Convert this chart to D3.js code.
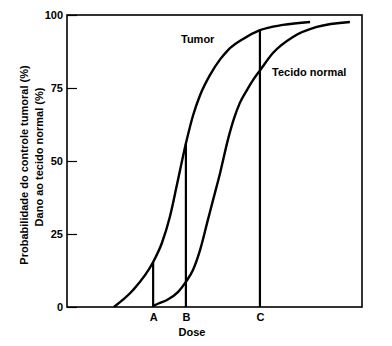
<!DOCTYPE html>
<html><head><meta charset="utf-8">
<script src="https://cdn.jsdelivr.net/npm/d3@7"></script>
<style>
body{margin:0;background:#fff;}
text{font-family:"Liberation Sans",Arial,sans-serif;font-weight:bold;}
</style></head>
<body><svg id="c" width="392" height="346"></svg>
<script>
const tumorDose = [15.9,22.4,29.2,32.2,34.9,37.3,40.3,42.7,45.1,48.5,51.9,54.6,59.7,65.4,73.2,82.4];
const tumorProb = [0,5.8,15.4,22,31,42,56,65.5,72.5,79.5,84.8,88,91.8,94.8,96.6,97.6];
const normalDose = [29.2,31.0,33.9,37.6,40.3,42.7,45.1,47.5,49.5,51.9,54.6,56.6,58.6,61.0,63.1,65.4,69.8,76.6,84.7,95.9];
const normalProb = [0.3,1.2,2.4,5.1,8.6,12.7,19.5,28.8,36.6,45.9,57.5,64.5,69.9,74.3,77.8,81.0,87.0,92.5,95.9,97.6];
const markerNames = ["A","B","C"];
const markerDose = [29.2,40.3,65.4];
const markerTop = [15.4,56,94.8];
const yTicks = [0,25,50,75,100];
const yLabel1 = "Probabilidade do controle tumoral (%)";
const yLabel2 = "Dano ao tecido normal (%)";
const xLabel = "Dose";

const svg = d3.select("#c");
const L=67, R=362, T=15, B=307;
const x = d3.scaleLinear().domain([0,100]).range([L,R]);
const y = d3.scaleLinear().domain([0,100]).range([B,T]);

svg.append("rect").attr("x",L).attr("y",T).attr("width",R-L).attr("height",B-T)
  .attr("fill","none").attr("stroke","#000").attr("stroke-width",1.6);

const ya = svg.append("g").attr("transform",`translate(${L},0)`)
  .call(d3.axisLeft(y).tickValues(yTicks).tickSize(-10).tickPadding(4));
ya.select(".domain").remove();
ya.selectAll("line").attr("stroke","#000").attr("stroke-width",1.2);
ya.selectAll("text").attr("font-size",11).attr("fill","#000");

const xa = svg.append("g").attr("transform",`translate(0,${B})`)
  .call(d3.axisBottom(x).tickValues(markerDose).tickSize(0).tickPadding(6)
    .tickFormat((d,i)=>markerNames[i]));
xa.select(".domain").remove();
xa.selectAll("text").attr("font-size",11).attr("fill","#000");

const line = d3.line().x(d=>x(d[0])).y(d=>y(d[1])).curve(d3.curveMonotoneX);
svg.append("path").datum(d3.zip(tumorDose,tumorProb)).attr("d",line)
  .attr("fill","none").attr("stroke","#000").attr("stroke-width",2.4);
svg.append("path").datum(d3.zip(normalDose,normalProb)).attr("d",line)
  .attr("fill","none").attr("stroke","#000").attr("stroke-width",2.4);

svg.selectAll(".mk").data(markerDose).enter().append("line")
  .attr("x1",d=>x(d)).attr("x2",d=>x(d))
  .attr("y1",y(0)).attr("y2",(d,i)=>y(markerTop[i]))
  .attr("stroke","#000").attr("stroke-width",2.2);

svg.append("text").attr("x",181).attr("y",43).attr("font-size",11).text("Tumor");
svg.append("text").attr("x",272).attr("y",76).attr("font-size",11).text("Tecido normal");
svg.append("text").attr("x",192).attr("y",336).attr("text-anchor","middle").attr("font-size",11).text(xLabel);
svg.append("text").attr("transform","translate(28,165) rotate(-90)").attr("text-anchor","middle").attr("font-size",11).text(yLabel1);
svg.append("text").attr("transform","translate(43,157) rotate(-90)").attr("text-anchor","middle").attr("font-size",11).text(yLabel2);
</script></body></html>
